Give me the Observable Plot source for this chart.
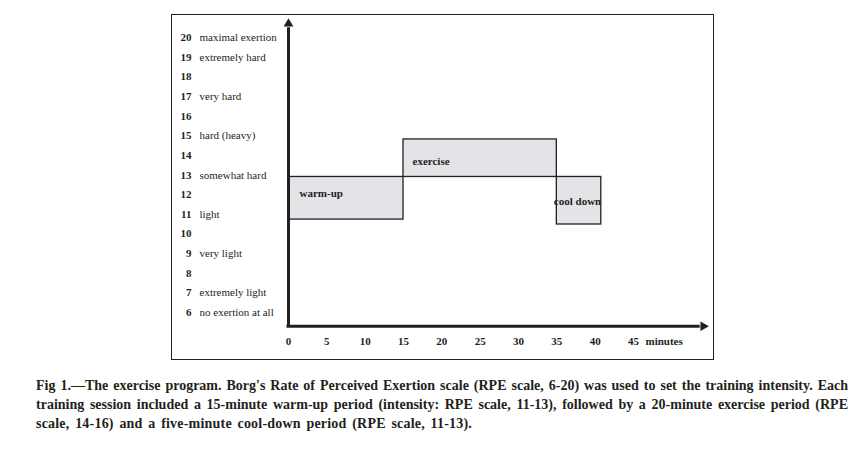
<!DOCTYPE html>
<html><head><meta charset="utf-8">
<script src="https://cdn.jsdelivr.net/npm/d3@7"></script>
<script src="https://cdn.jsdelivr.net/npm/@observablehq/plot@0.6"></script>
<style>
body{margin:0;background:#fff;font-family:"Liberation Serif","Times New Roman",serif;color:#231f20;}
#wrap{position:relative;width:866px;height:456px;}
#frame{position:absolute;left:171px;top:14px;width:541px;height:344px;border:1px solid #231f20;pointer-events:none;}
.cap{position:absolute;left:36px;width:812px;font-weight:bold;font-size:14px;line-height:19px;white-space:nowrap;color:#231f20;}
.just{text-align:justify;text-align-last:justify;white-space:normal;}
</style></head><body>
<div id="wrap">
<div id="chart"></div>
<div id="frame"></div>
<div class="cap just" style="top:376px">Fig 1.—The exercise program. Borg's Rate of Perceived Exertion scale (RPE scale, 6-20) was used to set the training intensity. Each</div>
<div class="cap just" style="top:395px">training session included a 15-minute warm-up period (intensity: RPE scale, 11-13), followed by a 20-minute exercise period (RPE</div>
<div class="cap" style="top:414px;word-spacing:2px;letter-spacing:0.2px">scale, 14-16) and a five-minute cool-down period (RPE scale, 11-13).</div>
</div>
<script>
const levels = [20,19,18,17,16,15,14,13,12,11,10,9,8,7,6];
const descriptors = ["maximal exertion","extremely hard","","very hard","","hard (heavy)","","somewhat hard","","light","","very light","","extremely light","no exertion at all"];
const xTicks = [0,5,10,15,20,25,30,35,40,45];
const xUnit = "minutes";
const phases = ["warm-up","exercise","cool down"];
const phaseStart = [0,15,35];
const phaseEnd = [15,35,40.8];
const phaseLow = [10.73,12.9,10.48];
const phaseHigh = [12.9,14.81,12.9];

const axisMinY = 5.3, axisMaxY = 20.7, axisMaxX = 54.1;

const rows = levels.map((v,i)=>({level:v, desc:descriptors[i]}));
const bars = phases.map((p,i)=>({phase:p, x1:phaseStart[i], x2:phaseEnd[i], y1:phaseLow[i], y2:phaseHigh[i], ym:(phaseLow[i]+phaseHigh[i])/2}));
const ink = "#231f20";
const labelOffsets = {"warm-up":[11,-5], "exercise":[9,3], "cool down":[-3,1]};

const plot = Plot.plot({
  width: 866,
  height: 365,
  x: {domain:[0,45], range:[288,633], axis:null},
  y: {domain:[6,20], range:[312,37], axis:null},
  style: {fontFamily:'"Liberation Serif","Times New Roman",serif', background:"#fff", color:ink},
  marks: [
    Plot.rect(bars, {x1:"x1", x2:"x2", y1:"y1", y2:"y2", fill:"#e4e4e8", stroke:ink, strokeWidth:1.3}),
    ...phases.map(p => Plot.text(bars.filter(d=>d.phase===p), {x:"x1", y:"ym", text:"phase", textAnchor:"start", dx:labelOffsets[p][0], dy:labelOffsets[p][1], fontSize:11, fontWeight:"bold", fill:ink})),
    Plot.ruleX([0], {y1:axisMinY, y2:axisMaxY - 0.2, stroke:ink, strokeWidth:3}),
    Plot.ruleY([axisMinY], {x1:-0.2, x2:axisMaxX - 0.4, stroke:ink, strokeWidth:3}),
    Plot.dot([[0, axisMaxY]], {x:d=>d[0], y:d=>d[1], symbol:"triangle", r:3.6, fill:ink, stroke:"none"}),
    Plot.dot([[axisMaxX, axisMinY]], {x:d=>d[0], y:d=>d[1], symbol:"triangle", r:3.6, rotate:90, fill:ink, stroke:"none"}),
    Plot.text(rows, {x:0, y:"level", text:d=>String(d.level), textAnchor:"end", dx:-97, fontSize:11, fontWeight:"bold", fill:ink}),
    Plot.text(rows, {x:0, y:"level", text:"desc", textAnchor:"start", dx:-89, fontSize:11, fill:ink}),
    Plot.text(xTicks, {x:d=>d, y:6, text:d=>String(d), dy:29, fontSize:11, fontWeight:"bold", fill:ink}),
    Plot.text([xUnit], {x:45, y:6, text:d=>d, dy:29, dx:12, textAnchor:"start", fontSize:11, fontWeight:"bold", fill:ink})
  ]
});
document.getElementById("chart").appendChild(plot);
</script>
</body></html>
